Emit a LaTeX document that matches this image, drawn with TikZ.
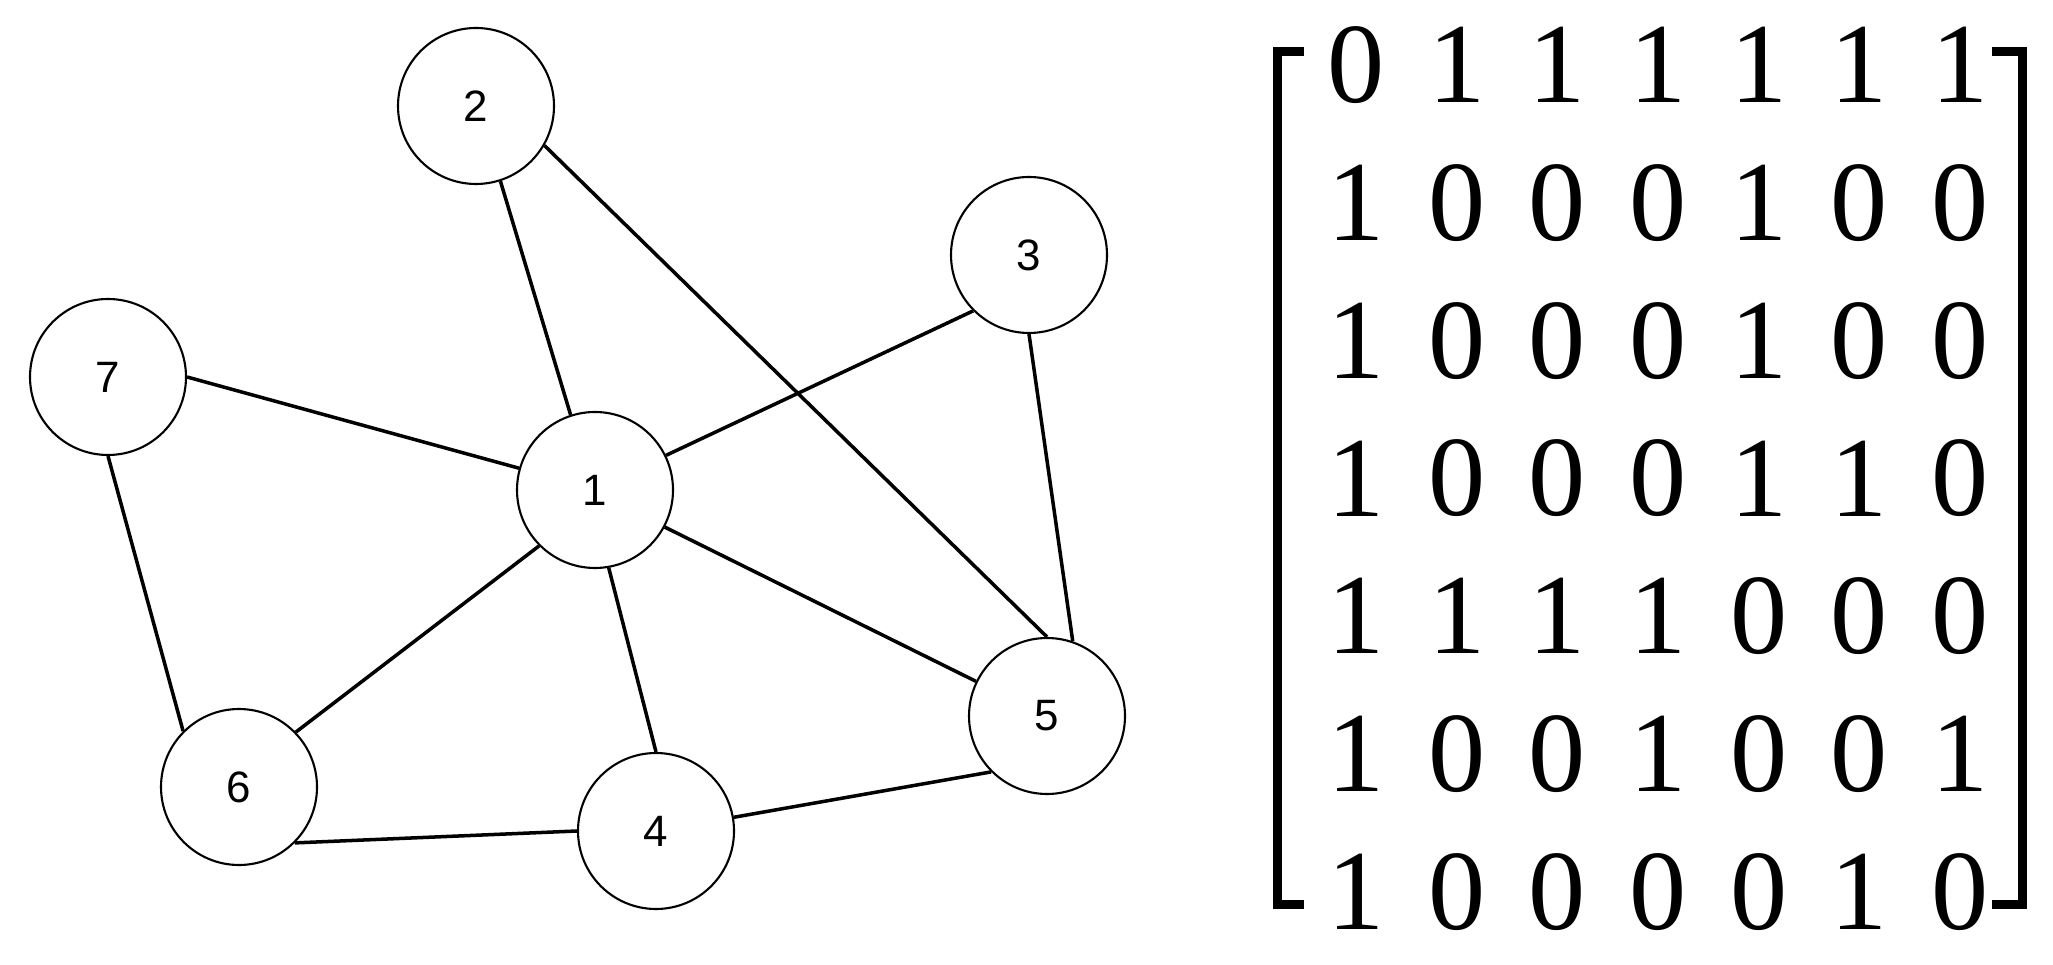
\documentclass[tikz,border=0pt]{standalone}
\usepackage{fontspec}
\newfontfamily\labelfont{Liberation Sans}
\newfontfamily\digitfont{Liberation Serif}

\begin{document}
\begin{tikzpicture}[
  vertex/.style={circle, draw, line width=0.6pt, minimum size=1.56cm, inner sep=0pt, font=\labelfont\fontsize{12.5}{15}\selectfont},
  edge/.style={line width=1pt},
  entry/.style={inner sep=0pt, font=\digitfont\fontsize{32.5}{36}\selectfont},
  bracket/.style={line width=0.09cm}
]
  \useasboundingbox (0,0) rectangle (20.53,9.64);
  % graph
  \node[vertex] (v1) at (5.95,4.74) {1};
  \node[vertex] (v2) at (4.76,8.58) {2};
  \node[vertex] (v3) at (10.29,7.09) {3};
  \node[vertex] (v4) at (6.56,1.33) {4};
  \node[vertex] (v5) at (10.47,2.48) {5};
  \node[vertex] (v6) at (2.39,1.77) {6};
  \node[vertex] (v7) at (1.08,5.87) {7};
  \foreach \a/\b in {v1.108/v2.-72, v1.26/v3.225, v1.164/v7.0, v1.-135/v6.44, v1.-80/v4.90, v1.-28/v5.154, v2.-30/v5.90, v3.-90/v5.71, v7.-90/v6.135, v6.-45/v4.180, v4.10/v5.-135}
    \draw[edge] (\a) -- (\b);
  % adjacency matrix
  \foreach \row [count=\j from 0] in {{0,1,1,1,1,1,1},{1,0,0,0,1,0,0},{1,0,0,0,1,0,0},{1,0,0,0,1,1,0},{1,1,1,1,0,0,0},{1,0,0,1,0,0,1},{1,0,0,0,0,1,0}}
    \foreach \val [count=\i from 0] in \row
      \node[entry] (m\j\i) at (13.56+1.007*\i, 8.99-1.378*\j) {\val};
  \draw[bracket] (13.04,9.12) -- (12.77,9.12) -- (12.77,0.60) -- (13.04,0.60);
  \draw[bracket] (19.92,9.12) -- (20.22,9.12) -- (20.22,0.60) -- (19.92,0.60);
\end{tikzpicture}
\end{document}
